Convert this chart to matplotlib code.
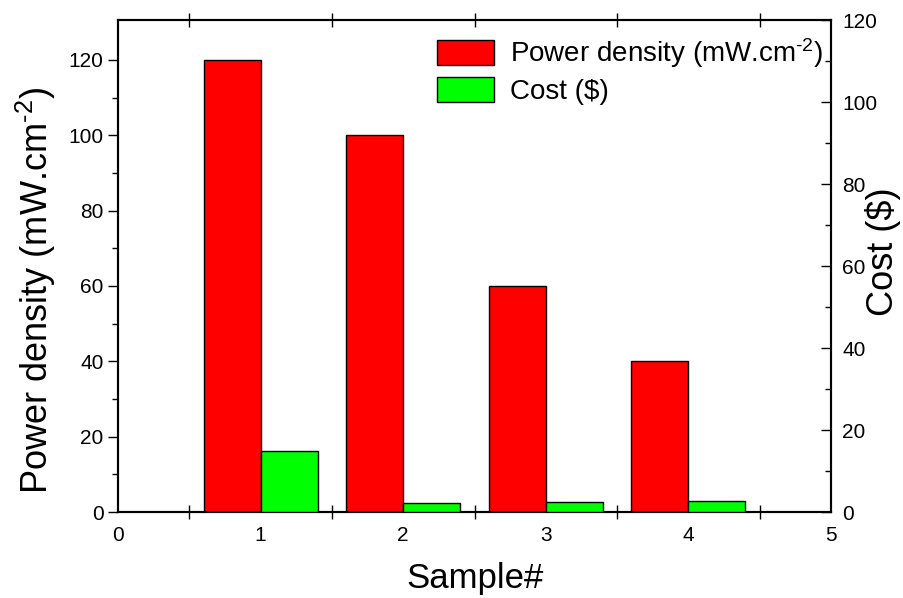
import matplotlib
matplotlib.use("Agg")
import matplotlib.pyplot as plt
import numpy as np

plt.rcParams["font.family"] = ["Liberation Sans", "DejaVu Sans"]
plt.rcParams["mathtext.fontset"] = "custom"
plt.rcParams["mathtext.rm"] = "Liberation Sans"
plt.rcParams["mathtext.default"] = "regular"

# 样品编号与数据
samples = [1, 2, 3, 4]
power_density = [120, 100, 60, 40]   # mW.cm-2
cost = [15, 2.3, 2.5, 2.8]           # $

width = 0.4
pd_label = r"Power density (mW.cm$^{\text{-2}}$)"

fig = plt.figure(figsize=(9.04, 5.98), dpi=100)
ax = fig.add_axes([118 / 904, 1 - 512 / 598, (831 - 118) / 904, (512 - 20) / 598])
ax2 = ax.twinx()

x = np.array(samples)
b1 = ax.bar(x - width, power_density, width=width, align="edge",
            color="#ff0000", edgecolor="black", linewidth=1, zorder=3)
b2 = ax2.bar(x, cost, width=width, align="edge",
             color="#00ff00", edgecolor="black", linewidth=1, zorder=3)

ax.set_xlim(0, 5)
ax.set_ylim(0, 130.6)
ax2.set_ylim(0, 120)

# x 轴：整数处标数字，刻度线在半格处
ax.set_xticks([0, 1, 2, 3, 4, 5])
ax.set_xticks([0, 0.5, 1.5, 2.5, 3.5, 4.5, 5], minor=True)
ax.tick_params(axis="x", which="major", length=0, pad=10, labelsize=15)
ax.tick_params(axis="x", which="minor", direction="inout", length=10, width=1,
               top=True, bottom=True)

ax.set_yticks(np.arange(0, 121, 20))
ax.set_yticks(np.arange(0, 121, 10), minor=True)
ax.tick_params(axis="y", which="major", direction="out", length=7, width=1, labelsize=15)
ax.tick_params(axis="y", which="minor", direction="out", length=4, width=1)

ax2.set_yticks(np.arange(0, 121, 20))
ax2.set_yticks(np.arange(0, 121, 10), minor=True)
ax2.tick_params(axis="y", which="major", direction="in", length=7, width=1, labelsize=15, pad=8)
ax2.tick_params(axis="y", which="minor", direction="in", length=4, width=1)

for a in (ax, ax2):
    for s in a.spines.values():
        s.set_linewidth(1.5)

ax.set_xlabel("Sample#", fontsize=25, labelpad=12)
ax.set_ylabel(pd_label, fontsize=26)
ax.yaxis.set_label_coords(-0.084, 0.45)
ax2.set_ylabel("Cost ($)", fontsize=26)
ax2.yaxis.set_label_coords(1.048, 0.53)

ax.legend([b1, b2], [pd_label, "Cost ($)"],
          loc="upper right", bbox_to_anchor=(1.005, 0.99), frameon=False, fontsize=20,
          handlelength=2.05, handleheight=1.0, handletextpad=0.6,
          borderaxespad=0, labelspacing=0.25)

fig.savefig("out.png", dpi=100)
